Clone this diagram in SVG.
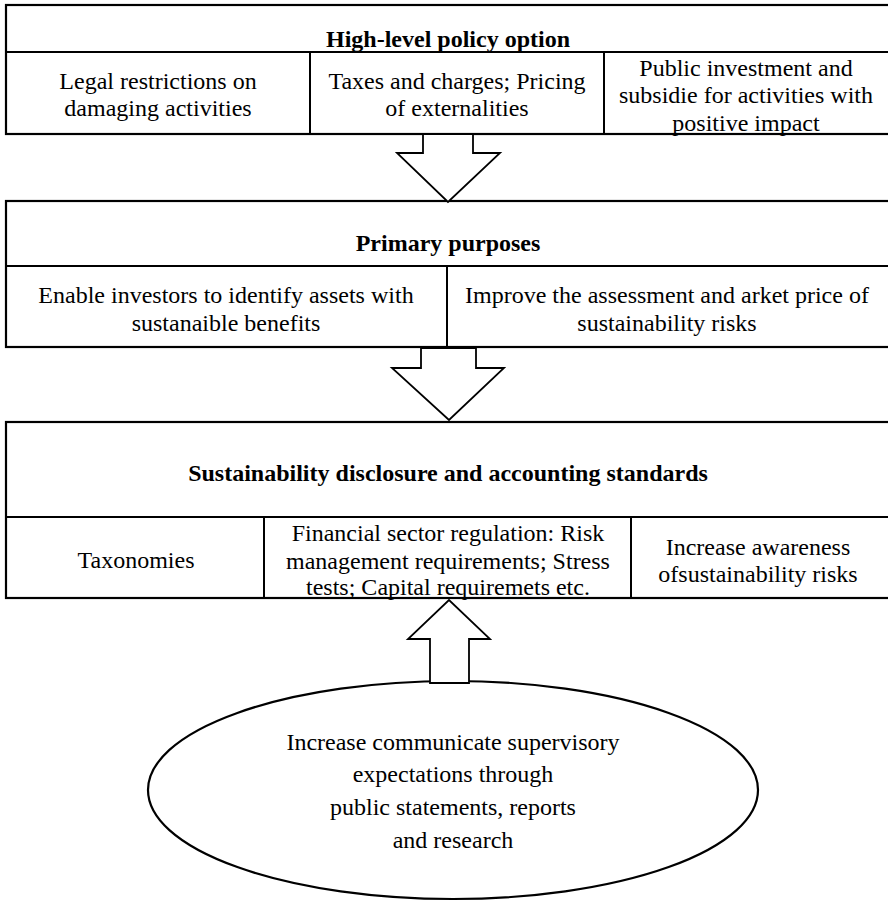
<svg xmlns="http://www.w3.org/2000/svg" width="888" height="901" viewBox="0 0 888 901">
<style>
.box{fill:#fff;stroke:#000;stroke-width:2.2}
.ln{stroke:#000;stroke-width:2;fill:none}
.arr{fill:#fff;stroke:#000;stroke-width:1.8;stroke-linejoin:miter}
text{font-family:"Liberation Serif","Times New Roman",serif;font-size:24px;fill:#000;text-anchor:middle}
.b{font-weight:bold}
</style>
<rect width="888" height="901" fill="#fff"/>
<g id="policy">
<rect class="box" x="6" y="5" width="900" height="129"/>
<line class="ln" x1="6" y1="52" x2="900" y2="52"/>
<line class="ln" x1="310" y1="52" x2="310" y2="134"/>
<line class="ln" x1="604" y1="52" x2="604" y2="134"/>
<text class="b" x="448" y="47">High-level policy option</text>
<text x="158" y="89">Legal restrictions on</text>
<text x="158" y="116">damaging activities</text>
<text x="457" y="89">Taxes and charges; Pricing</text>
<text x="457" y="116">of externalities</text>
<text x="746" y="76">Public investment and</text>
<text x="746" y="103">subsidie for activities with</text>
<text x="746" y="131">positive impact</text>
</g>
<g id="purposes">
<rect class="box" x="6" y="201" width="900" height="146"/>
<line class="ln" x1="6" y1="266" x2="900" y2="266"/>
<line class="ln" x1="447" y1="266" x2="447" y2="347"/>
<text class="b" x="448" y="251">Primary purposes</text>
<text x="226" y="303">Enable investors to identify assets with</text>
<text x="226" y="331">sustanaible benefits</text>
<text x="667" y="303">Improve the assessment and arket price of</text>
<text x="667" y="331">sustainability risks</text>
</g>
<g id="standards">
<rect class="box" x="6" y="422" width="900" height="176"/>
<line class="ln" x1="6" y1="517" x2="900" y2="517"/>
<line class="ln" x1="264" y1="517" x2="264" y2="598"/>
<line class="ln" x1="631" y1="517" x2="631" y2="598"/>
<text class="b" x="448" y="481">Sustainability disclosure and accounting standards</text>
<text x="136" y="568">Taxonomies</text>
<text x="448" y="541">Financial sector regulation: Risk</text>
<text x="448" y="569">management requirements; Stress</text>
<text x="448" y="595">tests; Capital requiremets etc.</text>
<text x="758" y="555">Increase awareness</text>
<text x="758" y="582">ofsustainability risks</text>
</g>
<g id="supervisory">
<ellipse class="box" cx="453" cy="790" rx="305" ry="109"/>
<text x="453" y="750">Increase communicate supervisory</text>
<text x="453" y="782">expectations through</text>
<text x="453" y="815">public statements, reports</text>
<text x="453" y="848">and research</text>
</g>
<g id="connectors">
<polygon class="arr" points="423,134 473,134 473,153 500,153 448,202 397,153 423,153"/>
<polygon class="arr" points="421,348 476,348 476,368 504,368 449,420 392,368 421,368"/>
<polygon class="arr" points="430,683 469,683 469,639 490,639 449,600 408,639 430,639"/>
</g>
</svg>
